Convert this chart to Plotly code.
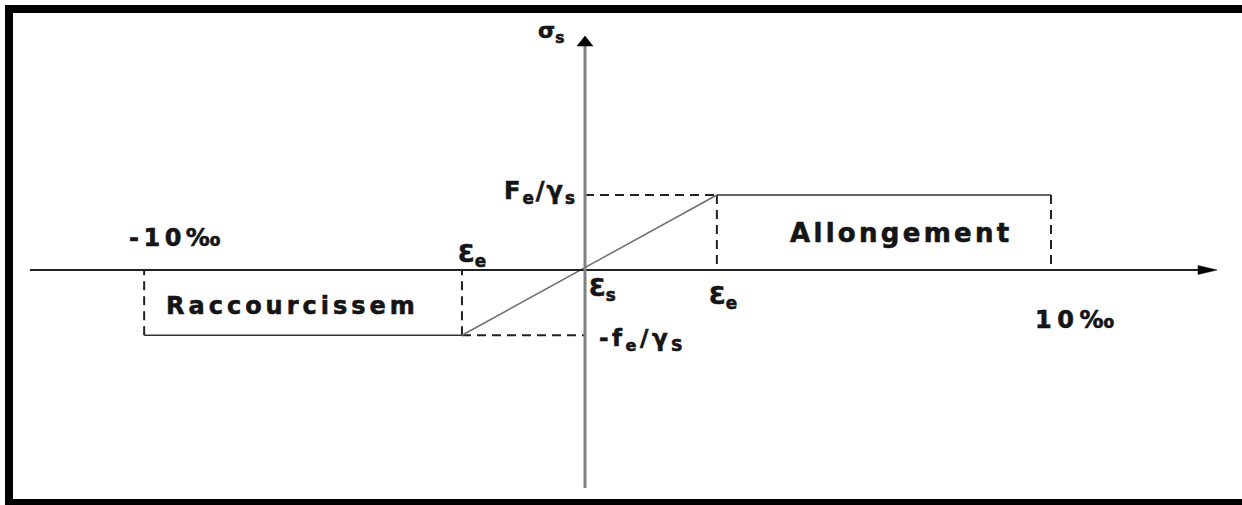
import plotly.graph_objects as go

# ---- data (strain in per-mille, stress normalised to fe/gamma_s) ----
eps_limits = [-9.46, 10.0]          # -10 per-mille / +10 per-mille positions
eps_elastic = [-2.64, 2.83]         # -eps_e / +eps_e
stress_levels = [-0.87, 1.0]        # -fe/gamma_s / Fe/gamma_s

# axis frame (scale of the drawing)
PX_PER_X = 46.6
PX_PER_Y = 75.0
X0_PX, Y0_PX = 585.0, 270.0
W, H = 1242, 505
x_range = [(0 - X0_PX) / PX_PER_X, (W - X0_PX) / PX_PER_X]
y_range = [(Y0_PX - H) / PX_PER_Y, Y0_PX / PX_PER_Y]

FONT = "DejaVu Sans"
INK = "#151515"

fig = go.Figure()

e_min, e_max = eps_limits
e_en, e_ep = eps_elastic
s_n, s_p = stress_levels

# dashed guide lines
dx, dy = [], []
for xs, ys in [
    ([0, e_ep], [s_p, s_p]),
    ([e_ep, e_ep], [s_p, 0]),
    ([e_max, e_max], [s_p, 0]),
    ([e_en, 0], [s_n, s_n]),
    ([e_en, e_en], [s_n, 0]),
    ([e_min, e_min], [s_n, 0]),
]:
    dx += xs + [None]
    dy += ys + [None]
fig.add_trace(go.Scatter(x=dx, y=dy, mode="lines",
                         line=dict(color="#222222", width=2, dash="9px,6px"),
                         hoverinfo="skip", showlegend=False))

# plateaus
fig.add_trace(go.Scatter(x=[e_ep, e_max, None, e_min, e_en],
                         y=[s_p, s_p, None, s_n, s_n], mode="lines",
                         line=dict(color="#333333", width=1.6),
                         hoverinfo="skip", showlegend=False))
# elastic branch
fig.add_trace(go.Scatter(x=[e_en, e_ep], y=[s_n, s_p], mode="lines",
                         line=dict(color="#6e6e6e", width=1.5),
                         hoverinfo="skip", showlegend=False))

shapes = []
# horizontal axis
hx0 = (30 - X0_PX) / PX_PER_X
hx1 = (1217 - X0_PX) / PX_PER_X
shapes.append(dict(type="line", xref="x", yref="y", x0=hx0, x1=hx1 - 15 / PX_PER_X,
                   y0=0, y1=0, line=dict(color="#222222", width=1.8)))
ah_len, ah_half = 19 / PX_PER_X, 4.5 / PX_PER_Y
shapes.append(dict(type="path", xref="x", yref="y",
                   path=f"M {hx1} 0 L {hx1 - ah_len} {ah_half} L {hx1 - ah_len} {-ah_half} Z",
                   fillcolor="#000000", line=dict(color="#000000", width=0.5)))
# vertical axis
vy1 = (Y0_PX - 36) / PX_PER_Y
vy0 = (Y0_PX - 488) / PX_PER_Y
shapes.append(dict(type="line", xref="x", yref="y", x0=0, x1=0, y0=vy0,
                   y1=vy1 - 8 / PX_PER_Y, line=dict(color="#808080", width=3)))
av_len, av_half = 10 / PX_PER_Y, 8 / PX_PER_X
shapes.append(dict(type="path", xref="x", yref="y",
                   path=f"M 0 {vy1} L {-av_half} {vy1 - av_len} L {av_half} {vy1 - av_len} Z",
                   fillcolor="#000000", line=dict(color="#000000", width=0.5)))
# outer frame
shapes.append(dict(type="rect", xref="paper", yref="paper",
                   x0=9 / W, x1=1247 / W, y0=(H - 503) / H, y1=(H - 9) / H,
                   line=dict(color="#000000", width=8), fillcolor="rgba(0,0,0,0)"))


def px(xp, yp):
    return (xp - X0_PX) / PX_PER_X, (Y0_PX - yp) / PX_PER_Y


def ann(text, xp, yp, size, xanchor="center", spacing=0):
    x, y = px(xp, yp)
    style = "stroke:#151515;stroke-width:0.6px;"
    if spacing:
        style += f"letter-spacing:{spacing}px;"
    text = f'<span style="{style}">{text}</span>'
    return dict(x=x, y=y, xref="x", yref="y", text=text, showarrow=False,
                xanchor=xanchor, yanchor="middle",
                font=dict(family=FONT, size=size, color=INK, weight="bold"))


annotations = [
    ann("σ<sub>s</sub>", 551, 32, 22),
    ann("F<sub>e</sub>/γ<sub>s</sub>", 579, 192, 24, xanchor="right", spacing=2),
    ann("Ɛ<sub>e</sub>", 472, 255, 24),
    ann("Ɛ<sub>s</sub>", 587, 289, 24, xanchor="left"),
    ann("Ɛ<sub>e</sub>", 723, 297, 24),
    ann("-f<sub>e</sub>/γ<sub>S</sub>", 597, 340, 23, xanchor="left", spacing=3.5),
    ann("-10‰", 177, 238, 24, spacing=4.5),
    ann("10‰", 1077, 320, 24, spacing=5.5),
    ann("Raccourcissem", 292, 306, 24, spacing=4),
    ann("Allongement", 901, 233, 26, spacing=3.3),
]

fig.update_layout(
    width=W, height=H, autosize=False,
    margin=dict(l=0, r=0, t=0, b=0),
    paper_bgcolor="white", plot_bgcolor="white",
    xaxis=dict(range=x_range, visible=False, fixedrange=True),
    yaxis=dict(range=y_range, visible=False, fixedrange=True),
    shapes=shapes, annotations=annotations, showlegend=False,
)

fig.write_html("out.html", config={"displayModeBar": False},
               post_script="document.body.style.margin='0';document.body.style.overflow='hidden';")
